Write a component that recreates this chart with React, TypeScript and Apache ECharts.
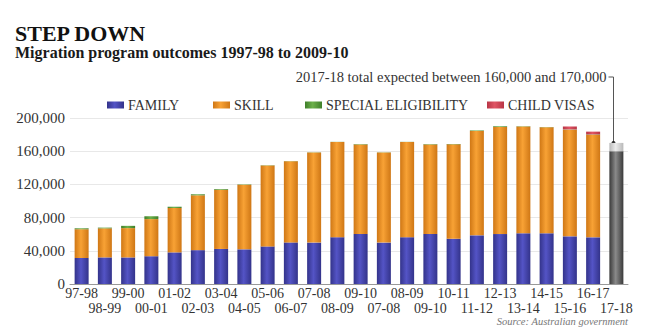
import React, { useEffect, useRef } from "react";
import * as echarts from "echarts";

const categories = ["97-98","98-99","99-00","00-01","01-02","02-03","03-04","04-05","05-06","06-07","07-08","08-09","09-10","07-08","08-09","09-10","10-11","11-12","12-13","13-14","14-15","15-16","16-17","17-18"];
const family = [31310,32040,32000,33470,38090,40790,42230,41740,45290,50080,49870,56370,60250,49870,56370,60250,54540,58600,60190,61110,61090,57400,56220,null];
const skill = [34670,35000,35330,44730,53520,66050,71240,77880,97340,97920,108540,114780,107870,108540,114780,107870,113730,125760,128970,128550,127770,128550,123570,null];
const special = [1110,890,2730,3420,1480,1230,890,450,310,200,220,175,501,220,175,501,417,639,842,338,238,308,421,null];
const child = [null,null,null,null,null,null,null,null,null,null,null,null,null,null,null,null,null,null,null,null,null,3512,3350,null];
const expectedLow = [null,null,null,null,null,null,null,null,null,null,null,null,null,null,null,null,null,null,null,null,null,null,null,160000];
const expectedRange = [null,null,null,null,null,null,null,null,null,null,null,null,null,null,null,null,null,null,null,null,null,null,null,10000];
const yTicks = { min: 0, max: 200000, interval: 40000 };
const seriesNames = ["FAMILY", "SKILL", "SPECIAL ELIGIBILITY", "CHILD VISAS"];
const legendLefts = [107, 213, 305, 487];

const FONT = "Liberation Serif";

function cyl(edge: string, mid: string) {
  return new echarts.graphic.LinearGradient(0, 0, 1, 0, [
    { offset: 0, color: edge },
    { offset: 0.45, color: mid },
    { offset: 1, color: edge },
  ]);
}

export default function App() {
  const ref = useRef<HTMLDivElement>(null);
  useEffect(() => {
    if (!ref.current) return;
    const chart = echarts.init(ref.current, undefined, { renderer: "svg" });
    const colors = [
      cyl("#33338a", "#5454c6"),
      cyl("#cf7715", "#f8a235"),
      cyl("#3f7f2a", "#6cb04a"),
      cyl("#b83545", "#e05565"),
    ];
    const dataSets = [family, skill, special, child];
    const series: any[] = seriesNames.map((n, i) => ({
      name: n,
      type: "bar",
      stack: "total",
      barWidth: 14,
      data: dataSets[i],
      itemStyle: { color: colors[i] },
    }));
    series.push({
      name: "expected",
      type: "bar",
      stack: "total",
      barWidth: 14,
      data: expectedLow,
      itemStyle: { color: cyl("#3a3a3a", "#8a8a8a") },
    });
    series.push({
      name: "expectedRange",
      type: "bar",
      stack: "total",
      barWidth: 14,
      data: expectedRange,
      itemStyle: { color: cyl("#b8b8b8", "#ececec") },
    });
    chart.setOption({
      animation: false,
      textStyle: { fontFamily: FONT },
      grid: { left: 70, right: 21, top: 118, bottom: 47 },
      legend: seriesNames.map((n, i) => ({
        data: [n],
        left: legendLefts[i],
        top: 98,
        icon: "rect",
        itemWidth: 17,
        itemHeight: 7,
        itemGap: 0,
        padding: 0,
        textStyle: { fontFamily: FONT, fontSize: 14, color: "#333", padding: [0, 0, 0, -1] },
        selectedMode: false,
      })),
      xAxis: {
        type: "category",
        data: categories,
        axisTick: { show: false },
        axisLine: { lineStyle: { color: "#999" } },
        axisLabel: {
          interval: 0,
          fontFamily: FONT,
          fontSize: 14,
          color: "#333",
          margin: 2,
          lineHeight: 15,
          formatter: (v: string, i: number) => (i % 2 === 0 ? v : "\n" + v),
        },
      },
      yAxis: {
        type: "value",
        min: yTicks.min,
        max: yTicks.max,
        interval: yTicks.interval,
        axisLine: { show: false },
        axisTick: { show: false },
        splitLine: { lineStyle: { color: "#e8e8e8" } },
        axisLabel: {
          fontFamily: FONT,
          fontSize: 15,
          color: "#333",
          margin: 5,
          formatter: (v: number) => v.toLocaleString("en-US"),
        },
      },
      series,
    });
    const last = categories.length - 1;
    const top = chart.convertToPixel({ xAxisIndex: 0, yAxisIndex: 0 }, [last, (expectedLow[last] as number) + (expectedRange[last] as number)]) as number[];
    const px = Math.round(top[0]) - 2.5;
    const py = top[1];
    chart.setOption({
      graphic: [
        { type: "text", x: 15, y: 33, style: { text: "STEP DOWN", font: `bold 22px '${FONT}'`, fill: "#111", verticalAlign: "middle" } },
        { type: "text", x: 15, y: 52, style: { text: "Migration program outcomes 1997-98 to 2009-10", font: `bold 16px '${FONT}'`, fill: "#1a1a1a", verticalAlign: "middle" } },
        { type: "text", x: px - 7, y: 77, style: { text: "2017-18 total expected between 160,000 and 170,000", font: `14.5px '${FONT}'`, fill: "#333", align: "right", verticalAlign: "middle" } },
        { type: "polyline", shape: { points: [[px - 5, 77], [px, 77], [px, py]] }, style: { stroke: "#555", lineWidth: 1, fill: null } },
        { type: "circle", shape: { cx: px, cy: py, r: 2 }, style: { fill: "#222" } },
        { type: "text", x: 628, y: 321, style: { text: "Source: Australian government", font: `italic 10.5px '${FONT}'`, lineHeight: 9, fill: "#777", align: "right", verticalAlign: "middle" } },
      ],
    });
    return () => chart.dispose();
  }, []);
  return <div ref={ref} style={{ width: 649, height: 331, position: "absolute", left: 0, top: 0, background: "#fff" }} />;
}
